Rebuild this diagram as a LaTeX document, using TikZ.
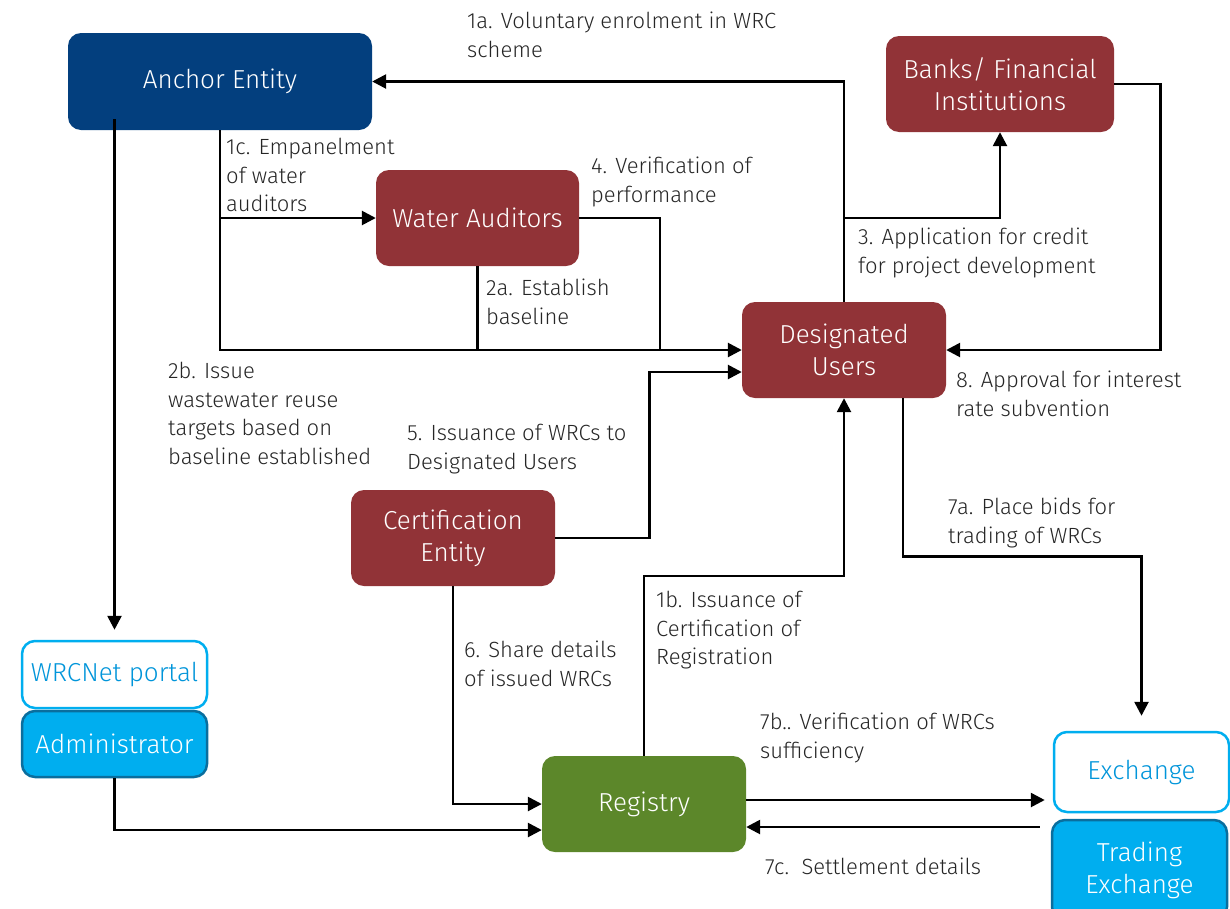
\documentclass[tikz,border=0pt]{standalone}
\usepackage{fontspec}
\setmainfont{Fira Sans Light}
\usepackage{tikz}
\usetikzlibrary{calc}
\usetikzlibrary{arrows.meta}
\definecolor{anchorblue}{HTML}{033F7E}
\definecolor{userred}{HTML}{913337}
\definecolor{regreen}{HTML}{5C872A}
\definecolor{portalcyan}{HTML}{00AEEF}
\definecolor{portaltext}{HTML}{0095DA}
\definecolor{admindark}{HTML}{0A6E9E}
\definecolor{labelgray}{HTML}{262626}
\tikzset{
  actor/.style={rounded corners=13pt, inner sep=0pt, align=center, text=white,
    font=\fontsize{26}{32}\selectfont},
  redbox/.style={actor, fill=userred},
  portalbox/.style={actor, draw=portalcyan, line width=2.5pt, fill=white, text=portaltext},
  adminbox/.style={actor, draw=admindark, line width=2.5pt, fill=portalcyan},
  flow/.style={line width=2.6pt, -{Triangle[length=14pt,width=14pt]}},
  plain/.style={line width=2.6pt},
  steptext/.style={anchor=north west, inner sep=0pt, align=left, text=labelgray,
    font=\fontsize{22}{28.7}\selectfont}
}
\newcommand{\steplabel}[4]{\node[steptext] (#1) at (#2,#3) {#4};}

\begin{document}
\begin{tikzpicture}[x=1pt,y=-1pt]
        \useasboundingbox (0,0) rectangle (1230,908);
        % actors
        \node[actor, fill=anchorblue, minimum width=304pt, minimum height=97pt] (anchor) at (220,81.5) {Anchor Entity};
        \node[redbox, minimum width=228pt, minimum height=96pt] (banks) at (1000,84) {Banks/ Financial\\Institutions};
        \node[redbox, minimum width=203pt, minimum height=96pt] (wa) at (477.5,218) {Water Auditors};
        \node[redbox, minimum width=204pt, minimum height=96pt] (du) at (844,350) {Designated\\Users};
        \node[redbox, minimum width=204pt, minimum height=96pt] (cert) at (453,538) {Certification\\Entity};
        \node[actor, fill=regreen, minimum width=204pt, minimum height=96pt] (reg) at (644,804) {Registry};
        \node[portalbox, minimum width=185pt, minimum height=67pt] (portal) at (114.5,674.5) {WRCNet portal};
        \node[adminbox, minimum width=185pt, minimum height=66pt] (admin) at (114.5,744) {Administrator};
        \node[portalbox, minimum width=175pt, minimum height=80pt] (ex) at (1141.5,772) {Exchange};
        \node[adminbox, minimum width=175pt, minimum height=100pt] (trade) at (1139.5,870) {Trading\\Exchange};
        % connectors
        \draw[flow] (du.north) |- (anchor.east);
        \draw[flow] (du.north |- wa) -| (banks.south);
        \draw[flow] (banks.east) -- ++(46,0) |- (du.east);
        \draw[flow] (anchor.south) |- (du.west);
        \draw[flow] (anchor.south |- wa.west) -- (wa.west);
        \draw[plain] (wa.south) -- (wa.south |- du.west);
        \coordinate (j4) at (660,350);
        \draw[plain] (wa.east) -| (j4);
        \draw[flow] ([yshift=11pt]anchor.south west -| portal.north) -- ([yshift=10pt]portal.north);
        \draw[flow] (admin.south) |- ([yshift=-26pt]reg.west);
        \draw[flow] (cert.south) |- (reg.west);
        \draw[flow] (cert.east) -- ++(94,0) |- ([yshift=-22pt]du.west);
        \draw[flow] (reg.north) -- ++(0,-180) -| (du.south);
        \draw[flow] ([xshift=59pt]du.south) -- ++(0,158) -| ([yshift=15pt]ex.north);
        \draw[flow] ([yshift=4pt]reg.east) -- ([yshift=4pt,xshift=-8pt]reg.east -| ex.west);
        \draw[flow] ([yshift=-23pt,xshift=-13pt]reg.east -| ex.west) -- ([yshift=-23pt]reg.east);
        % step labels
        \steplabel{l1a}{467}{12}{1a. Voluntary enrolment in WRC\\scheme}
        \steplabel{l1c}{226}{138}{1c. Empanelment\\of water\\auditors}
        \steplabel{l4}{591}{157}{4. Verification of\\performance}
        \steplabel{l3}{858}{228}{3. Application for credit\\for project development}
        \steplabel{l2a}{486}{279}{2a. Establish\\baseline}
        \steplabel{l8}{956}{371}{8. Approval for interest\\rate subvention}
        \steplabel{l2b}{168}{362}{2b. Issue\\wastewater reuse\\targets based on\\baseline established}
        \steplabel{l5}{407}{424}{5. Issuance of WRCs to\\Designated Users}
        \steplabel{l7a}{948}{498}{7a. Place bids for\\trading of WRCs}
        \steplabel{l1b}{656}{591}{1b. Issuance of\\Certification of\\Registration}
        \steplabel{l6}{464}{641}{6. Share details\\of issued WRCs}
        \steplabel{l7b}{760}{713}{7b.. Verification of WRCs\\sufficiency}
        \steplabel{l7c}{765}{858}{7c.\ \ Settlement details}
    \end{tikzpicture}
\end{document}
